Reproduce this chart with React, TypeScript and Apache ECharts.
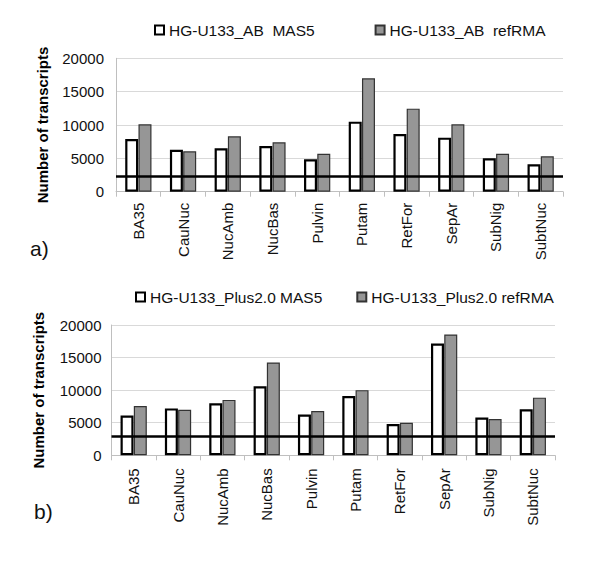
import React, { useEffect, useRef } from "react";
import * as echarts from "echarts";

// ---- data ----
const categories = ["BA35", "CauNuc", "NucAmb", "NucBas", "Pulvin", "Putam", "RetFor", "SepAr", "SubNig", "SubtNuc"];

const abSeriesNames = ["HG-U133_AB  MAS5", "HG-U133_AB  refRMA"];
const abMas5 = [7900, 6300, 6500, 6850, 4850, 10500, 8650, 8100, 5000, 4100];
const abRefRMA = [10100, 6050, 8300, 7400, 5700, 17000, 12450, 10100, 5700, 5300];
const abThreshold = 2350;

const plusSeriesNames = ["HG-U133_Plus2.0 MAS5", "HG-U133_Plus2.0 refRMA"];
const plusMas5 = [6100, 7200, 8000, 10600, 6250, 9100, 4800, 17150, 5800, 7050];
const plusRefRMA = [7550, 7000, 8500, 14250, 6800, 10000, 5000, 18550, 5580, 8850];
const plusThreshold = 3000;

const yMin = 0;
const yMax = 20000;
const yInterval = 5000;
const yAxisTitle = "Number of transcripts";
const panelLabels = ["a)", "b)"];

const FONT = "'Liberation Sans', Arial, sans-serif";

export default function App() {
  const ref = useRef<HTMLDivElement>(null);

  useEffect(() => {
    if (!ref.current) return;
    const chart = echarts.init(ref.current, undefined, { renderer: "svg" });

    const whiteStyle = { color: "#ffffff", borderColor: "#000000", borderWidth: 2.2 };
    const greyStyle = { color: "#969696", borderColor: "#333333", borderWidth: 1.2 };

    const xAxisCommon = (gridIndex: number, margin: number) => ({
      type: "category" as const,
      gridIndex,
      data: categories,
      axisLine: { show: true, lineStyle: { color: "#bfbfbf", width: 1 } },
      axisTick: { show: true, length: 5, lineStyle: { color: "#bfbfbf" } },
      axisLabel: {
        rotate: 90,
        margin,
        fontSize: 15,
        color: "#111",
        fontFamily: FONT,
        interval: 0,
      },
    });

    const yAxisCommon = (gridIndex: number, margin: number) => ({
      type: "value" as const,
      gridIndex,
      min: yMin,
      max: yMax,
      interval: yInterval,
      name: yAxisTitle,
      nameLocation: "middle" as const,
      nameRotate: 90,
      nameGap: 66,
      nameTextStyle: { fontSize: 15, fontWeight: "bold" as const, color: "#000", fontFamily: FONT },
      axisLine: { show: true, lineStyle: { color: "#bfbfbf", width: 1 } },
      axisTick: { show: false },
      splitLine: { show: true, lineStyle: { color: "#d9d9d9", width: 1 } },
      axisLabel: {
        margin,
        fontSize: 15,
        color: "#111",
        fontFamily: FONT,
        formatter: (v: number) => String(v),
      },
    });

    const refLine = (value: number) => ({
      silent: true,
      symbol: ["none", "none"],
      label: { show: false },
      lineStyle: { color: "#000", width: 2.5, type: "solid" as const },
      data: [{ yAxis: value }],
    });

    const barCommon = {
      type: "bar" as const,
      barWidth: 13,
      barGap: "2%",
    };

    const option = {
      animation: false,
      backgroundColor: "#ffffff",
      textStyle: { fontFamily: FONT },
      grid: [
        { left: 116, top: 58.3, width: 447, height: 133.4 },
        { left: 111.5, top: 325, width: 443.5, height: 130.3 },
      ],
      legend: [
        {
          data: abSeriesNames,
          left: 149,
          top: 17,
          itemWidth: 9,
          itemHeight: 9,
          itemGap: 60,
          icon: "rect",
          textStyle: { fontSize: 15.5, color: "#111", fontFamily: FONT },
        },
        {
          data: plusSeriesNames,
          left: 130,
          top: 284,
          itemWidth: 9,
          itemHeight: 9,
          itemGap: 34,
          icon: "rect",
          textStyle: { fontSize: 15.5, color: "#111", fontFamily: FONT },
        },
      ],
      xAxis: [xAxisCommon(0, 11), xAxisCommon(1, 13)],
      yAxis: [yAxisCommon(0, 12), yAxisCommon(1, 10)],
      series: [
        {
          ...barCommon,
          name: abSeriesNames[0],
          xAxisIndex: 0,
          yAxisIndex: 0,
          data: abMas5,
          itemStyle: whiteStyle,
        },
        {
          ...barCommon,
          name: abSeriesNames[1],
          xAxisIndex: 0,
          yAxisIndex: 0,
          data: abRefRMA,
          itemStyle: greyStyle,
          markLine: refLine(abThreshold),
        },
        {
          ...barCommon,
          name: plusSeriesNames[0],
          xAxisIndex: 1,
          yAxisIndex: 1,
          data: plusMas5,
          itemStyle: whiteStyle,
        },
        {
          ...barCommon,
          name: plusSeriesNames[1],
          xAxisIndex: 1,
          yAxisIndex: 1,
          data: plusRefRMA,
          itemStyle: greyStyle,
          markLine: refLine(plusThreshold),
        },
      ],
      graphic: [
        {
          type: "text",
          left: 30,
          top: 238,
          style: { text: panelLabels[0], fontSize: 21, fill: "#111", fontFamily: FONT },
        },
        {
          type: "text",
          left: 34,
          top: 501,
          style: { text: panelLabels[1], fontSize: 21, fill: "#111", fontFamily: FONT },
        },
      ],
    };

    chart.setOption(option as any);
    return () => {
      chart.dispose();
    };
  }, []);

  return (
    <div
      ref={ref}
      style={{ position: "fixed", left: 0, top: 0, width: 600, height: 564, background: "#fff" }}
    />
  );
}
